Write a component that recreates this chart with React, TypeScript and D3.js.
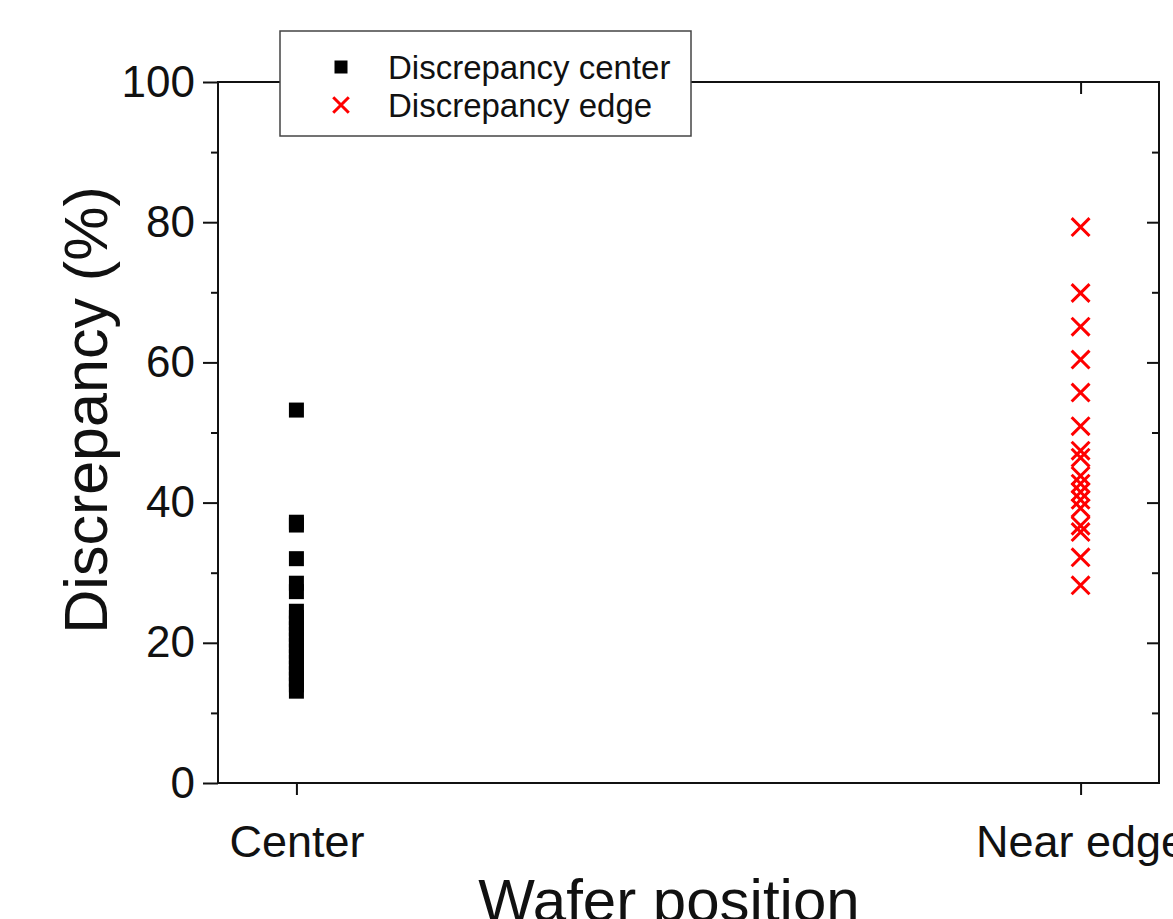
import React, { useEffect, useRef } from 'react';
import * as d3 from 'd3';

const categories = ['Center', 'Near edge'];
const centerValues = [53.2, 37.2, 36.8, 32.0, 28.5, 27.3, 24.5, 23.6, 22.8, 22.0, 21.2, 20.4, 19.6, 18.8, 18.0, 17.2, 16.4, 15.6, 14.8, 14.0, 13.1];
const edgeValues = [79.3, 69.9, 65.1, 60.4, 55.7, 50.9, 47.4, 46.4, 43.8, 42.7, 41.5, 40.4, 39.2, 36.7, 35.8, 32.2, 28.2];
const yMajorTicks = [0, 20, 40, 60, 80, 100];
const yMinorTicks = [10, 30, 50, 70, 90];
const legendLabels = ['Discrepancy center', 'Discrepancy edge'];

const W = 1173;
const H = 919;
const FONT = '"Liberation Sans", Arial, sans-serif';

const App: React.FC = () => {
  const svgRef = useRef<SVGSVGElement>(null);

  useEffect(() => {
    if (!svgRef.current) return;
    const svg = d3.select(svgRef.current);
    svg.selectAll('*').remove();

    const left = 218, right = 1159, top = 82, bottom = 783;

    const x = d3.scaleLinear().domain([0.9, 2.1]).range([left, right]);
    const y = d3.scaleLinear().domain([0, 100]).range([bottom, top]);

    svg.append('rect').attr('width', W).attr('height', H).attr('fill', '#fff');

    // frame
    svg.append('rect')
      .attr('x', left).attr('y', top)
      .attr('width', right - left).attr('height', bottom - top)
      .attr('fill', 'none').attr('stroke', '#111').attr('stroke-width', 2);

    const tickStyle = (g: any) => {
      g.select('.domain').remove();
      g.selectAll('line').attr('stroke', '#111').attr('stroke-width', 2);
    };

    // left axis, outward ticks
    svg.append('g').attr('transform', `translate(${left},0)`)
      .call(d3.axisLeft(y).tickValues(yMajorTicks).tickSize(15).tickPadding(8).tickFormat(d3.format('d')))
      .call(tickStyle)
      .call(g => g.selectAll('text').attr('font-size', 44).attr('font-family', FONT).attr('fill', '#111'));
    svg.append('g').attr('transform', `translate(${left},0)`)
      .call(d3.axisLeft(y).tickValues(yMinorTicks).tickSize(7).tickFormat(() => ''))
      .call(tickStyle);

    // right axis, inward ticks
    svg.append('g').attr('transform', `translate(${right},0)`)
      .call(d3.axisRight(y).tickValues(yMajorTicks.slice(1, -1)).tickSize(-12).tickFormat(() => ''))
      .call(tickStyle);
    svg.append('g').attr('transform', `translate(${right},0)`)
      .call(d3.axisRight(y).tickValues(yMinorTicks).tickSize(-7).tickFormat(() => ''))
      .call(tickStyle);

    // bottom axis, outward ticks
    svg.append('g').attr('transform', `translate(0,${bottom})`)
      .call(d3.axisBottom(x).tickValues([1, 2]).tickSize(12).tickPadding(30).tickFormat((d: any) => categories[Number(d) - 1]))
      .call(tickStyle)
      .call(g => g.selectAll('text').attr('font-size', 45).attr('font-family', FONT).attr('fill', '#111'));

    // top axis, inward ticks
    svg.append('g').attr('transform', `translate(0,${top})`)
      .call(d3.axisTop(x).tickValues([1, 2]).tickSize(-12).tickFormat(() => ''))
      .call(tickStyle);

    // axis titles
    svg.append('text')
      .attr('transform', 'translate(107,410) rotate(-90)')
      .attr('text-anchor', 'middle')
      .attr('font-size', 61).attr('font-family', FONT).attr('fill', '#111')
      .text('Discrepancy (%)');
    svg.append('text')
      .attr('x', 669).attr('y', 921)
      .attr('text-anchor', 'middle')
      .attr('font-size', 60).attr('font-family', FONT).attr('fill', '#111')
      .text('Wafer position');

    // center points
    const sq = 15;
    svg.append('g').selectAll('rect')
      .data(centerValues)
      .enter()
      .append('rect')
      .attr('x', x(1) - sq / 2)
      .attr('y', d => y(d) - sq / 2)
      .attr('width', sq).attr('height', sq)
      .attr('fill', '#000');

    // edge points
    const cross = d3.symbol().type(d3.symbolX).size(210);
    svg.append('g').selectAll('path')
      .data(edgeValues)
      .enter()
      .append('path')
      .attr('transform', d => `translate(${x(2)},${y(d)})`)
      .attr('d', cross() as string)
      .attr('fill', 'none')
      .attr('stroke', '#ff0000')
      .attr('stroke-width', 3);

    // legend
    const lg = svg.append('g');
    lg.append('rect')
      .attr('x', 280).attr('y', 31).attr('width', 411).attr('height', 105)
      .attr('fill', '#fff').attr('stroke', '#444').attr('stroke-width', 1.5);
    lg.append('rect')
      .attr('x', 341 - 6.5).attr('y', 67 - 6.5).attr('width', 13).attr('height', 13)
      .attr('fill', '#000');
    lg.append('path')
      .attr('transform', 'translate(341,105)')
      .attr('d', d3.symbol().type(d3.symbolX).size(160)() as string)
      .attr('fill', 'none').attr('stroke', '#ff0000').attr('stroke-width', 3);
    lg.selectAll('text.lab')
      .data(legendLabels)
      .enter()
      .append('text')
      .attr('x', 388)
      .attr('y', (_, i) => 79 + i * 38)
      .attr('font-size', 33).attr('font-family', FONT).attr('fill', '#111')
      .text(d => d);
  }, []);

  return (
    <svg
      ref={svgRef}
      width={W}
      height={H}
      viewBox={`0 0 ${W} ${H}`}
      style={{ position: 'absolute', left: 0, top: 0, display: 'block' }}
    />
  );
};

export default App;
